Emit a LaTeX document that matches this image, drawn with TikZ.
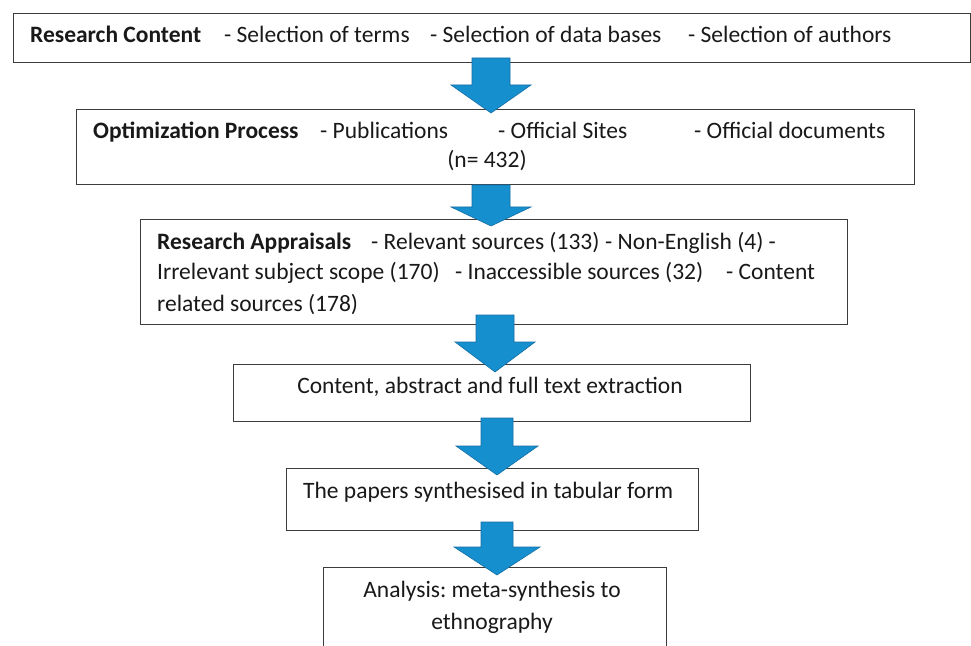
\documentclass[tikz,border=0pt]{standalone}
\usepackage{fontspec}
\setmainfont{Carlito}
\frenchspacing
\begin{document}
\begin{tikzpicture}[x=1bp,y=-1bp]
\definecolor{arrowblue}{RGB}{22,143,206}
\definecolor{arrowedge}{RGB}{20,110,165}
\definecolor{boxedge}{RGB}{60,60,60}
\definecolor{txt}{RGB}{25,25,25}
\tikzset{
  boxnode/.style={draw=boxedge, line width=1.4bp, fill=white, rectangle, inner sep=0pt},
  lbl/.style={anchor=base west, inner sep=0pt, text=txt, font=\fontsize{23.5bp}{28bp}\selectfont},
  clbl/.style={anchor=base, inner sep=0pt, text=txt, font=\fontsize{23.5bp}{28bp}\selectfont},
  blockarrow/.style={fill=arrowblue, draw=arrowedge, line width=0.6bp, line join=miter}
}
\newcommand\blkarrow[6]{% cx, top, headstart, tip, shaft half, head half
  \filldraw[blockarrow] ({#1-#5},#2) -- ({#1+#5},#2) -- ({#1+#5},#3) -- ({#1+#6},#3)
     -- (#1,#4) -- ({#1-#6},#3) -- ({#1-#5},#3) -- cycle;}
\useasboundingbox (0,0) rectangle (971,646);
\fill[white] (0,0) rectangle (971,646);
% boxes
\node[boxnode, minimum width=957bp, minimum height=49bp, anchor=north west] (b1) at (12.5,13) {};
\node[boxnode, minimum width=838bp, minimum height=75bp, anchor=north west] (b2) at (76,109) {};
\node[boxnode, minimum width=707bp, minimum height=105bp, anchor=north west] (b3) at (140,219) {};
\node[boxnode, minimum width=517bp, minimum height=57.5bp, anchor=north west] (b4) at (232.5,363.5) {};
\node[boxnode, minimum width=412bp, minimum height=62bp, anchor=north west] (b5) at (286,468) {};
\node[boxnode, minimum width=343bp, minimum height=95bp, anchor=north west] (b6) at (322.5,567) {};
% arrows
\blkarrow{491}{58}{85}{113}{19}{40}
\blkarrow{491}{185}{207}{226}{19}{40}
\blkarrow{495}{315}{342}{372}{19}{40}
\blkarrow{497}{418}{446}{475}{16}{41}
\blkarrow{497}{522}{547}{575}{16}{43}
% box 1 text
\node[lbl] (t1a) at (30,43) {\bfseries Research Content};
\node[lbl] (t1b) at (224,43) {- Selection of terms};
\node[lbl] (t1c) at (430,43) {- Selection of data bases};
\node[lbl] (t1d) at (688,43) {- Selection of authors};
% box 2 text
\node[lbl] (t2a) at (93,139) {\bfseries Optimization Process};
\node[lbl] (t2b) at (320,139) {- Publications};
\node[lbl] (t2c) at (498,139) {- Official Sites};
\node[lbl] (t2d) at (694,139) {- Official documents};
\node[clbl] (t2e) at (487,168) {(n= 432)};
% box 3 text
\node[lbl] (t3a) at (157,250) {\bfseries Research Appraisals};
\node[lbl] (t3b) at (371,250) {- Relevant sources (133)};
\node[lbl] (t3c) at (605,250) {- Non-English (4) -};
\node[lbl] (t3d) at (157,280) {Irrelevant subject scope (170)};
\node[lbl] (t3e) at (455,280) {- Inaccessible sources (32)};
\node[lbl] (t3f) at (726,280) {- Content};
\node[lbl] (t3g) at (157,311) {related sources (178)};
% box 4-6 text
\node[clbl] (t4) at (490,393) {Content, abstract and full text extraction};
\node[lbl] (t5) at (303,498) {The papers synthesised in tabular form};
\node[clbl] (t6a) at (492,597) {Analysis: meta-synthesis to};
\node[clbl] (t6b) at (492,629) {ethnography};
\end{tikzpicture}
\end{document}
